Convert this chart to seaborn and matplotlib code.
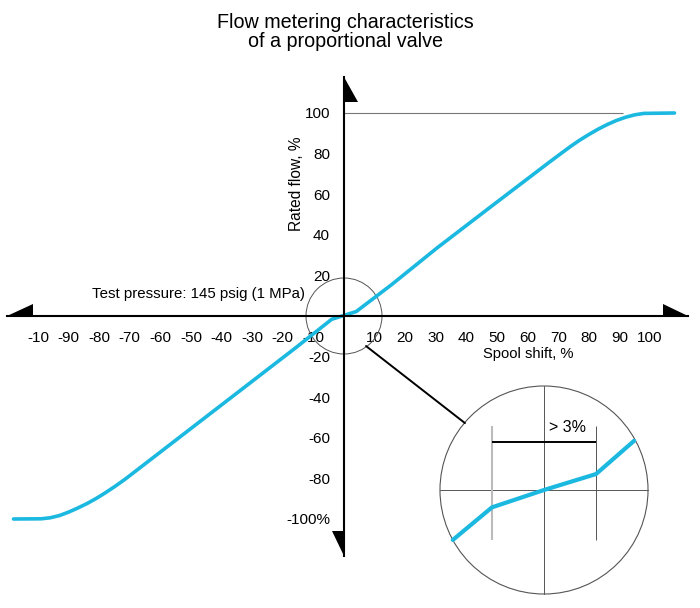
import numpy as np
import pandas as pd
import matplotlib
matplotlib.use('Agg')
import matplotlib.pyplot as plt
import matplotlib.font_manager as fm
import seaborn as sns
from matplotlib.patches import Ellipse, Circle, Polygon, ConnectionPatch

# Main curve (spool shift %, rated flow %)
spool_shift = [-108, -99, -96, -93, -90, -87, -84, -81, -78, -75, -72, -70.5,
               -16, -4, 4, 15.6, 30.3, 47.7, 67.3, 70.6,
               74, 77, 80, 83, 86, 89, 92, 95, 98, 108]
rated_flow = [-100, -99.9, -99.4, -98.3, -96.6, -94.6, -92.4, -89.9, -87.1, -84.1, -80.9, -79.2,
              -15.9, -1.6, 2.2, 15.5, 33.4, 53.5, 76, 79.7,
              83.5, 86.6, 89.4, 92.0, 94.3, 96.3, 97.9, 99.1, 99.8, 100]

# Ticks
x_ticks = [-100, -90, -80, -70, -60, -50, -40, -30, -20, -10,
           10, 20, 30, 40, 50, 60, 70, 80, 90, 100]
x_tick_labels = ['-10', '-90', '-80', '-70', '-60', '-50', '-40', '-30', '-20', '-10',
                 '10', '20', '30', '40', '50', '60', '70', '80', '90', '100']
y_ticks = [-100, -80, -60, -40, -20, 20, 40, 60, 80, 100]
y_tick_labels = ['-100%', '-80', '-60', '-40', '-20', '20', '40', '60', '80', '100']

# Magnified view around zero (units: % spool shift, zoomed)
zoom_shift = [-2.63, -1.5, 0, 1.5, 2.6]
zoom_flow = [-1.44, -0.5, 0, 0.46, 1.42]
deadband = [-1.5, 1.5]

blue = '#1bb8e0'

sns.set_style('white')
names = {f.name for f in fm.fontManager.ttflist}
font = 'Liberation Sans Narrow' if 'Liberation Sans Narrow' in names else 'Liberation Sans'
plt.rcParams['font.family'] = [font, 'DejaVu Sans']
plt.rcParams['text.color'] = 'black'
plt.rcParams['xtick.labelcolor'] = 'black'
plt.rcParams['ytick.labelcolor'] = 'black'

fig = plt.figure(figsize=(7, 6.08), dpi=100)
ax = fig.add_axes([0, 0, 1, 1])

# pixel layout: origin at (344, 316), 3.06 px per % in x, 2.03 px per % in y
sx, sy = 3.06, 2.03
ax.set_xlim(-344 / sx, 356 / sx)
ax.set_ylim(-292 / sy, 316 / sy)

df = pd.DataFrame({'Spool shift': spool_shift, 'Rated flow': rated_flow})
sns.lineplot(data=df, x='Spool shift', y='Rated flow', sort=False, color=blue,
             lw=2.6, ax=ax, zorder=3)

# axes through the origin
for side in ['top', 'right']:
    ax.spines[side].set_visible(False)
ax.spines['left'].set_position(('data', 0))
ax.spines['bottom'].set_position(('data', 0))
ax.spines['bottom'].set_bounds(-110, 112.3)
ax.spines['left'].set_bounds(-118.3, 117.5)
for side in ['left', 'bottom']:
    ax.spines[side].set_linewidth(1.5)
    ax.spines[side].set_color('black')
    ax.spines[side].set_zorder(4)

ax.set_xticks(x_ticks)
ax.set_xticklabels(x_tick_labels)
ax.set_yticks(y_ticks)
ax.set_yticklabels(y_tick_labels)
ax.tick_params(axis='x', direction='out', length=8.5, width=1.3, color='black',
               pad=2.5, labelsize=11, labelcolor='black')
ax.tick_params(axis='y', direction='out', length=9.5, width=0.7, color='#777777',
               pad=0.5, labelsize=11, labelcolor='black')
ax.set_xlabel('')
ax.set_ylabel('')

# half arrow heads at the axis ends
arrows = [
    [(-110, 0), (-101.5, 0), (-101.5, 5.9)],
    [(112.3, 0), (104.1, 0), (104.1, 5.9)],
    [(0, 117.5), (0, 105.6), (4.6, 105.6)],
    [(0, -118.3), (0, -106.1), (-3.9, -106.1)],
]
for pts in arrows:
    ax.add_patch(Polygon(pts, closed=True, color='black', lw=0, zorder=5))

# 100 % reference line
ax.hlines(100, 0, 91.3, color='#777777', lw=0.8)

# circle marking the zoom region
ax.add_patch(Ellipse((0, 0), 2 * 38 / sx, 2 * 38 / sy, fill=False,
                     ec='#555555', lw=0.7, zorder=2))

ax.text(-82.4, 11, 'Test pressure: 145 psig (1 MPa)', fontsize=10.8, va='center')
ax.text(45.5, -18.5, 'Spool shift, %', fontsize=10.6, va='center')
ax.text(-15.5, 65, 'Rated flow, %', fontsize=11.2, rotation=90, ha='center', va='center')
ax.text(0.493, 1 - 32 / 608, 'Flow metering characteristics\nof a proportional valve',
        transform=ax.transAxes, ha='center', va='center', fontsize=14.2, linespacing=1.05)

# magnified inset
unit = 34.67
half = 3.1 * unit
inset = fig.add_axes([(544 - half) / 700, (608 - 490 - half) / 608,
                      2 * half / 700, 2 * half / 608])
inset.set_xlim(-3.1, 3.1)
inset.set_ylim(-3.1, 3.1)
inset.axis('off')
inset.patch.set_alpha(0)
ring = Circle((0, 0), 3, fill=False, ec='#555555', lw=0.8)
inset.add_patch(ring)
inset.plot([-3, 3], [0, 0], color='#555555', lw=0.7)
inset.plot([0, 0], [-3, 3], color='#555555', lw=0.7)
inset.vlines(deadband[0], -1.44, 1.84, color='#bbbbbb', lw=1.5)
inset.vlines(deadband[1], -1.44, 1.84, color='#555555', lw=0.7)
inset.hlines(1.38, deadband[0], deadband[1], color='black', lw=1.4)
inset.text(0.69, 1.79, '> 3%', ha='center', va='center', fontsize=11.5)
zdf = pd.DataFrame({'x': zoom_shift, 'y': zoom_flow})
sns.lineplot(data=zdf, x='x', y='y', sort=False, color=blue, lw=3, ax=inset)
inset.set_xlabel('')
inset.set_ylabel('')

con = ConnectionPatch(xyA=(7.2, -14.8), coordsA=ax.transData,
                      xyB=(-2.28, 1.93), coordsB=inset.transData,
                      color='black', lw=1.4)
fig.add_artist(con)

fig.savefig('out.png', dpi=100)
